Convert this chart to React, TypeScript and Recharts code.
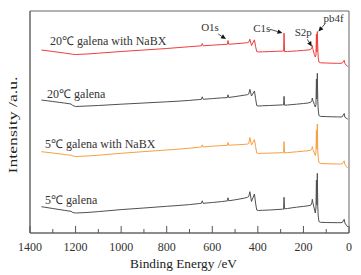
import React from 'react';
import { LineChart, Line, XAxis, YAxis, ReferenceArea, ReferenceLine, ReferenceDot } from 'recharts';

// binding energy grid (eV), high -> low
const energies = [
  1350, 1300, 1250, 1220, 1212, 1200, 1150, 1100, 1000, 900,
  800, 750, 700, 660, 648, 644, 640, 600, 560, 534,
  531, 528, 500, 460, 445, 440, 435, 428, 415, 410,
  405, 398, 380, 350, 320, 292, 287, 285, 283, 270,
  250, 230, 200, 180, 168, 163, 161, 158, 152, 148,
  145, 143, 141, 139, 137, 135, 132, 125, 100, 75,
  50, 35, 28, 24, 21, 18, 12, 5,
];

// stacked intensities (a.u., offsets included)
const warmNaBX = [
  183, 181.5, 180, 179, 178.7, 178.5, 179, 179.8, 181.5, 183,
  184.5, 185.4, 186.3, 187, 187.2, 189.5, 187.2, 187.8, 188.4, 188.7,
  192.5, 188.8, 189.2, 190, 190.4, 190.8, 193.8, 187.5, 193.2, 186.5,
  181.5, 181, 181.2, 181.4, 181.7, 181.9, 181.9, 199.8, 181.4, 181.5,
  181.8, 182.1, 182.6, 183, 183.5, 185, 187.5, 183.5, 178.5, 176,
  178, 199, 181, 201.5, 185, 175, 171, 170.2, 170, 169.8,
  169.7, 169.7, 170.2, 172, 172.7, 169.5, 168, 166.3,
];
const warmGalena = [
  133, 131.5, 130, 129, 127.5, 126.5, 127, 127.5, 128.8, 130,
  131.2, 131.8, 132.6, 133.4, 133.6, 136.2, 133.7, 134.4, 135.1, 135.4,
  138.2, 135.5, 136.4, 137.8, 138.4, 139, 143.7, 137, 142, 134.5,
  127.5, 127, 127.2, 127.5, 127.8, 128.1, 128.1, 136.7, 127.8, 128,
  128.4, 128.8, 129.5, 130, 130.7, 132.5, 135, 132, 128.5, 126,
  128.5, 154, 134, 159.7, 132, 123, 117.5, 116.6, 116.4, 116.2,
  116.1, 116, 116.5, 118.8, 119.5, 115.8, 114.8, 113.8,
];
const coldNaBX = [
  81.3, 80, 78.5, 77.8, 77, 76.5, 77, 77.8, 79.7, 81.4,
  83, 83.8, 84.8, 85.7, 86, 88.2, 86, 86.8, 87.4, 87.7,
  90.5, 87.8, 88.1, 88.6, 89, 89.5, 95.5, 88, 93.5, 86.5,
  80, 79.5, 79.7, 79.9, 80.1, 80.3, 80.3, 91.3, 80.2, 80.4,
  80.8, 81.2, 81.8, 82.3, 82.8, 84.2, 86.5, 83.5, 80, 77.5,
  80.5, 103, 84, 109, 82, 75, 70.5, 69.6, 69.3, 69.1,
  69, 69, 69.5, 71.5, 72.2, 68.7, 66.7, 64.7,
];
const coldGalena = [
  26.3, 24.5, 22.7, 21.7, 20.5, 20, 20.5, 21.4, 23.4, 25,
  26.7, 27.5, 28.4, 29.4, 29.7, 32.2, 29.7, 30.5, 31.4, 32.1,
  35.2, 32.2, 33.2, 34.8, 35.8, 36.5, 41.3, 31.5, 39, 30,
  23, 22.5, 22.7, 23, 23.4, 23.8, 23.8, 35.7, 24.2, 24.5,
  25.2, 25.8, 26.6, 27.2, 27.8, 30, 33.7, 30, 24, 20,
  25, 53, 28, 59.7, 26, 17, 11.5, 10.7, 10.5, 10.4,
  10.3, 10.3, 10.8, 13, 13.7, 10, 8, 6,
];

const seriesNames = ['20℃ galena with NaBX', '20℃ galena', '5℃ galena with NaBX', '5℃ galena'];
const peakNames = ['O1s', 'C1s', 'S2p', 'pb4f'];
const xTicks = [1400, 1300, 1200, 1100, 1000, 900, 800, 700, 600, 500, 400, 300, 200, 100, 0];

const rows = energies.map((e, i) => ({
  energy: e,
  a: warmNaBX[i],
  b: warmGalena[i],
  c: coldNaBX[i],
  d: coldGalena[i],
}));

const colors = ['#ef3d3d', '#505050', '#f5a042', '#505050'];
const keys = ['a', 'b', 'c', 'd'];
const serif = { fontFamily: "'Liberation Serif', 'Times New Roman', Times, serif" };

// where the series names sit (energy, intensity at baseline)
const seriesLabelAt = [
  [1312, 188],
  [1325, 134.7],
  [1334, 85.5],
  [1334, 29],
];
// peak callouts: text anchor, arrow start, arrow end
const peakLabelAt = [
  { text: [610, 202.5], from: [574, 199], to: [540, 194] },
  { text: [383, 201], from: [347, 203.7], to: [292, 200] },
  { text: [201, 197.5], from: [183, 193.7], to: [163, 186.5] },
  { text: [68, 211], from: [106, 209], to: [134, 201.5] },
];

const Arrow = (p: any) => {
  const { x1, y1, x2, y2 } = p;
  const a = Math.atan2(y2 - y1, x2 - x1);
  const L = 5;
  const W = 2.3;
  const bx = x2 - L * Math.cos(a);
  const by = y2 - L * Math.sin(a);
  const pts = `${x2},${y2} ${bx + W * Math.sin(a)},${by - W * Math.cos(a)} ${bx - W * Math.sin(a)},${by + W * Math.cos(a)}`;
  return (
    <g>
      <line x1={x1} y1={y1} x2={bx} y2={by} stroke="#222" strokeWidth={0.8} />
      <polygon points={pts} fill="#111" />
    </g>
  );
};

const EnergyTick = (p: any) => {
  const { x, y, payload } = p;
  const major = payload.value % 200 === 0;
  return (
    <g>
      <line x1={x} y1={y} x2={x} y2={y - (major ? 7 : 4)} stroke="#555" strokeWidth={1} />
      {major && (
        <text x={x} y={y + 18} textAnchor="middle" style={serif} fontSize={12} fill="#333">
          {payload.value}
        </text>
      )}
    </g>
  );
};

const XTitle = (p: any) => {
  const { viewBox } = p;
  return (
    <text x={viewBox.x + viewBox.width / 2 - 6} y={268} textAnchor="middle" style={serif} fontSize={13.3} fill="#222">
      Binding Energy /eV
    </text>
  );
};

const YTitle = () => (
  <text
    x={13}
    y={125}
    transform="rotate(-90 13 125)"
    textAnchor="middle"
    dominantBaseline="central"
    style={serif}
    fontSize={12.5}
    fill="#222"
    textLength={97}
    lengthAdjust="spacingAndGlyphs"
  >
    Intensity /a.u.
  </text>
);

export default function App() {
  return (
    <div style={{ position: 'absolute', left: 0, top: 0, background: '#fff' }}>
      <LineChart width={361} height={275} data={rows} margin={{ top: 11, right: 12, left: 0, bottom: 0 }}>
        <XAxis
          dataKey="energy"
          type="number"
          domain={[0, 1400]}
          reversed
          ticks={xTicks}
          interval={0}
          tickSize={0}
          tickMargin={0}
          tickLine={false}
          axisLine={{ stroke: '#666' }}
          tick={<EnergyTick />}
          height={42}
          label={<XTitle />}
        />
        <YAxis type="number" domain={[0, 222]} width={30} tick={false} tickLine={false} axisLine={{ stroke: '#666' }} label={<YTitle />} />
        <ReferenceArea x1={0} x2={1400} y1={0} y2={222} fill="none" stroke="#666" strokeWidth={1} />
        {keys.map((k, i) => (
          <Line key={k} type="linear" dataKey={k} stroke={colors[i]} strokeWidth={1} dot={false} isAnimationActive={false} />
        ))}
        {seriesNames.map((name, i) => (
          <ReferenceDot
            key={name}
            x={seriesLabelAt[i][0]}
            y={seriesLabelAt[i][1]}
            r={0}
            shape={(p: any) => (
              <text x={p.cx} y={p.cy} textAnchor="start" style={serif} fontSize={12} fill="#333">
                {name}
              </text>
            )}
          />
        ))}
        {peakNames.map((name, i) => (
          <ReferenceLine
            key={'arrow-' + name}
            segment={[
              { x: peakLabelAt[i].from[0], y: peakLabelAt[i].from[1] },
              { x: peakLabelAt[i].to[0], y: peakLabelAt[i].to[1] },
            ]}
            shape={Arrow}
          />
        ))}
        {peakNames.map((name, i) => (
          <ReferenceDot
            key={'peak-' + name}
            x={peakLabelAt[i].text[0]}
            y={peakLabelAt[i].text[1]}
            r={0}
            shape={(p: any) => (
              <text x={p.cx} y={p.cy} textAnchor="middle" style={serif} fontSize={11} fill="#333">
                {name}
              </text>
            )}
          />
        ))}
      </LineChart>
    </div>
  );
}
